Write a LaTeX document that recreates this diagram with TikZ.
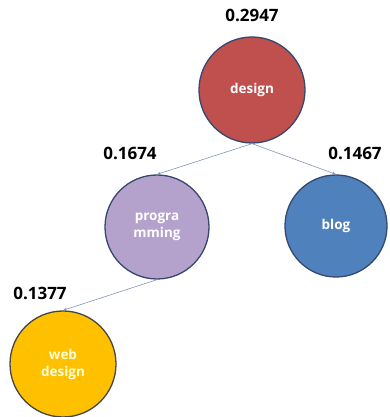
\documentclass[tikz,border=0pt]{standalone}
\usepackage{fontspec}
\setmainfont{Open Sans}
\definecolor{designred}{RGB}{192, 80, 77}
\definecolor{proglilac}{RGB}{180, 162, 205}
\definecolor{blogblue}{RGB}{79, 129, 189}
\definecolor{webyellow}{RGB}{255, 192, 0}
\definecolor{rimblue}{RGB}{52, 72, 112}
\definecolor{rimgray}{RGB}{70, 70, 70}
\definecolor{edgeblue}{RGB}{130, 150, 180}
\usetikzlibrary{arrows.meta}

\begin{document}
\begin{tikzpicture}[x=1pt, y=1pt]
  \useasboundingbox (0, 0) rectangle (389, 417);
  \tikzset{
    term/.style={circle, draw=rimblue, line width=1.3pt, minimum size=106pt, inner sep=0pt,
      text=white, font=\fontsize{13.5}{17}\selectfont\bfseries, align=center},
    weight/.style={font=\fontsize{17}{19}\selectfont\bfseries, text=black},
    link/.style={edgeblue, line width=0.6pt, -{Stealth[length=4pt, width=3pt]}}
  }

  % Term nodes
  \node[term, fill=designred] (design) at (252, 327) {design};
  \node[term, fill=proglilac, minimum size=104pt] (prog) at (157, 190) {progra\\mming};
  \node[term, fill=blogblue, minimum size=102pt] (blog) at (336, 191) {blog};
  \node[term, fill=webyellow, draw=rimgray, text=white!85!yellow] (webdesign) at (63, 53) {web\\design};

  % Weights
  \node[weight] (wdesign) at (252, 402) {0.2947};
  \node[weight] (wprog) at (130, 264) {0.1674};
  \node[weight] (wblog) at (355, 264) {0.1467};
  \node[weight] (wweb) at (40, 124) {0.1377};

  % Links
  \draw[link] (design.south) -- (prog.north);
  \draw[link] (design.south) -- (blog.north);
  \draw[link] (prog.south) -- (webdesign.north);
\end{tikzpicture}
\end{document}
